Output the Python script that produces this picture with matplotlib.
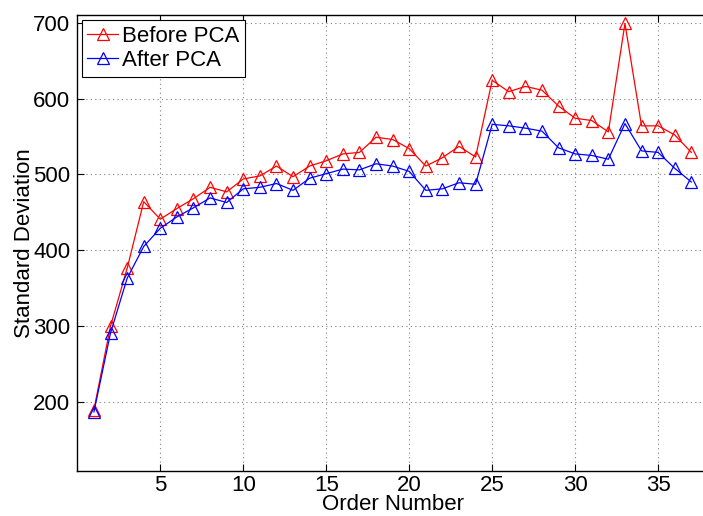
import matplotlib
matplotlib.use("Agg")
import matplotlib.pyplot as plt

# Standard deviation per order number, before and after PCA
order = list(range(1, 38))
before_pca = [190, 300, 376, 464, 441, 455, 468, 483, 477, 494,
              498, 511, 497, 511, 518, 527, 529, 549, 546, 534,
              511, 522, 537, 523, 624, 609, 616, 611, 590, 574,
              571, 556, 699, 564, 564, 552, 529]
after_pca = [187, 291, 363, 405, 429, 444, 456, 469, 463, 481,
             483, 488, 479, 495, 501, 507, 506, 514, 511, 504,
             479, 481, 489, 487, 566, 564, 561, 557, 535, 527,
             525, 520, 567, 531, 529, 508, 490]

xticks = [5, 10, 15, 20, 25, 30, 35]
yticks = [200, 300, 400, 500, 600, 700]

plt.rcParams['font.family'] = ['Liberation Sans', 'DejaVu Sans']

fig = plt.figure(figsize=(7.03, 5.16), dpi=100)
ax = fig.add_axes([0.110, 0.0878, 0.897, 0.883])

ax.plot(order, before_pca, color='#ff0000', lw=0.9, marker='^', ms=9,
        mfc='none', mec='#ff0000', mew=0.9, label='Before PCA')
ax.plot(order, after_pca, color='#0000ff', lw=0.9, marker='^', ms=9,
        mfc='none', mec='#0000ff', mew=0.9, label='After PCA')

ax.set_xlim(0, 38)
ax.set_ylim(109.5, 710)
ax.set_xticks(xticks)
ax.set_yticks(yticks)
ax.tick_params(direction='in', length=5, width=0.8, labelsize=16,
               top=True, right=False)
ax.tick_params(axis='x', pad=3)
ax.tick_params(axis='y', pad=5)
ax.grid(True, color='#808080', linestyle=(0, (1, 3)), linewidth=0.8)
for s in ax.spines.values():
    s.set_linewidth(1.0)
ax.spines['right'].set_visible(False)

ax.set_xlabel('Order Number', fontsize=16, labelpad=-1.5)
ax.set_ylabel('Standard Deviation', fontsize=16, labelpad=-1)

leg = ax.legend(loc='upper left', bbox_to_anchor=(0.007, 0.989),
                borderaxespad=0, fontsize=16, fancybox=False,
                framealpha=1, edgecolor='black', handlelength=1.4,
                handletextpad=0.15, borderpad=0.25, labelspacing=0.15)
leg.get_frame().set_linewidth(0.8)

fig.savefig('out.png', dpi=100)
